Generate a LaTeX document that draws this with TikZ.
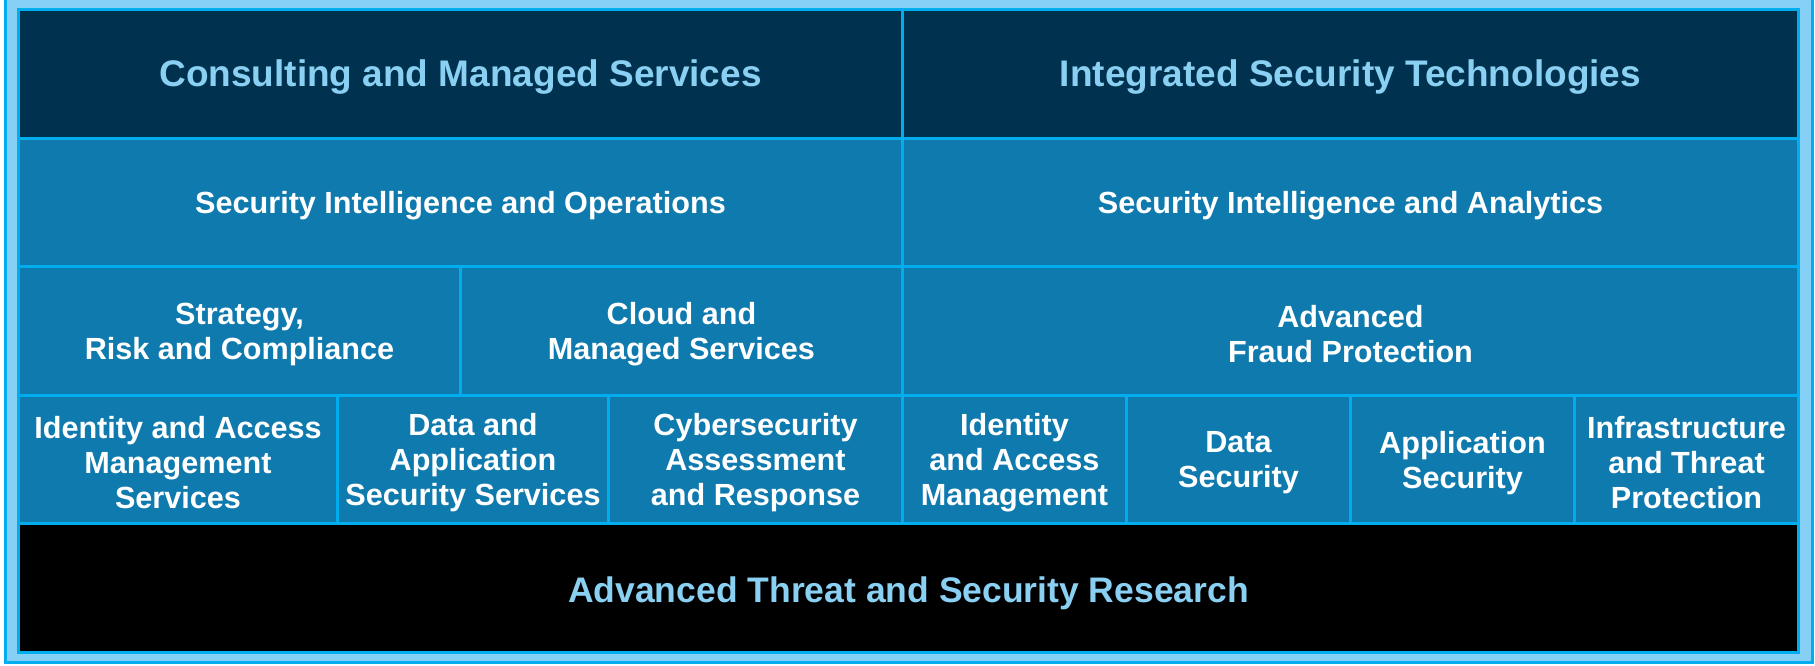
\documentclass[tikz,border=0pt]{standalone}
\usepackage{fontspec}
\setmainfont{Liberation Sans}
\definecolor{navy}{HTML}{00324F}
\definecolor{midblue}{HTML}{0F7AAE}
\definecolor{cyanline}{HTML}{00AEEF}
\definecolor{paleblue}{HTML}{87D0F5}
\definecolor{titleblue}{HTML}{8AD0F2}
\tikzset{
  cell/.style={draw=cyanline, line width=3pt, inner sep=0pt, minimum height=128.5pt},
  bodycell/.style={cell, fill=midblue},
  titlecell/.style={cell, fill=navy},
  researchcell/.style={cell, fill=black},
  bodytext/.style={inner sep=0pt, align=center, text=white, yshift=-3.5pt, font=\bfseries\fontsize{30.6}{35.3}\selectfont},
  titletext/.style={inner sep=0pt, align=center, text=titleblue, yshift=-3pt, font=\bfseries\fontsize{37}{42}\selectfont},
}
\begin{document}
\begin{tikzpicture}[x=1pt,y=-1pt]
\useasboundingbox (0,0) rectangle (1815,665);
\begin{scope}
\clip (0,0) rectangle (1815,665);
\fill[white] (0,0) rectangle (1815,665);
\draw[cyanline, line width=3.5pt, fill=paleblue] (5.5,-10) rectangle (1812.5,662.5);
\end{scope}
% cells
\node[titlecell, minimum width=884pt] (cms) at (460.5,73.75) {};
\node[titlecell, minimum width=896pt] (ist) at (1350.5,73.75) {};
\node[bodycell, minimum width=884pt] (sio) at (460.5,202.25) {};
\node[bodycell, minimum width=896pt] (sia) at (1350.5,202.25) {};
\node[bodycell, minimum width=442pt] (src) at (239.5,330.75) {};
\node[bodycell, minimum width=442pt] (cloud) at (681.5,330.75) {};
\node[bodycell, minimum width=896pt] (afp) at (1350.5,330.75) {};
\node[bodycell, minimum width=319pt] (iams) at (178,459.25) {};
\node[bodycell, minimum width=271pt] (dass) at (473,459.25) {};
\node[bodycell, minimum width=294pt] (car) at (755.5,459.25) {};
\node[bodycell, minimum width=224pt] (iam) at (1014.5,459.25) {};
\node[bodycell, minimum width=224pt] (ds) at (1238.5,459.25) {};
\node[bodycell, minimum width=224pt] (as) at (1462.5,459.25) {};
\node[bodycell, minimum width=224pt] (itp) at (1686.5,459.25) {};
\node[researchcell, minimum width=1780pt] (atsr) at (908.5,587.75) {};
% texts
\node[titletext] (cmst) at (cms.center) {Consulting and Managed Services};
\node[titletext] (istt) at (ist.center) {Integrated Security Technologies};
\node[bodytext] (siot) at (sio.center) {Security Intelligence and Operations};
\node[bodytext] (siat) at (sia.center) {Security Intelligence and Analytics};
\node[bodytext] (srct) at (src.center) {Strategy,\\Risk and Compliance};
\node[bodytext] (cloudt) at (cloud.center) {Cloud and\\Managed Services};
\node[bodytext] (afpt) at (afp.center) {Advanced\\Fraud Protection};
\node[bodytext] (iamst) at (iams.center) {Identity and Access\\Management\\Services};
\node[bodytext] (dasst) at (dass.center) {Data and\\Application\\Security Services};
\node[bodytext] (cart) at (car.center) {Cybersecurity\\Assessment\\and Response};
\node[bodytext] (iamt) at (iam.center) {Identity\\and Access\\Management};
\node[bodytext] (dst) at (ds.center) {Data\\Security};
\node[bodytext] (ast) at (as.center) {Application\\Security};
\node[bodytext] (itpt) at (itp.center) {Infrastructure\\and Threat\\Protection};
\node[titletext, yshift=-3pt, font=\bfseries\fontsize{35.5}{40}\selectfont] (atsrt) at (atsr.center) {Advanced Threat and Security Research};
\end{tikzpicture}
\end{document}
